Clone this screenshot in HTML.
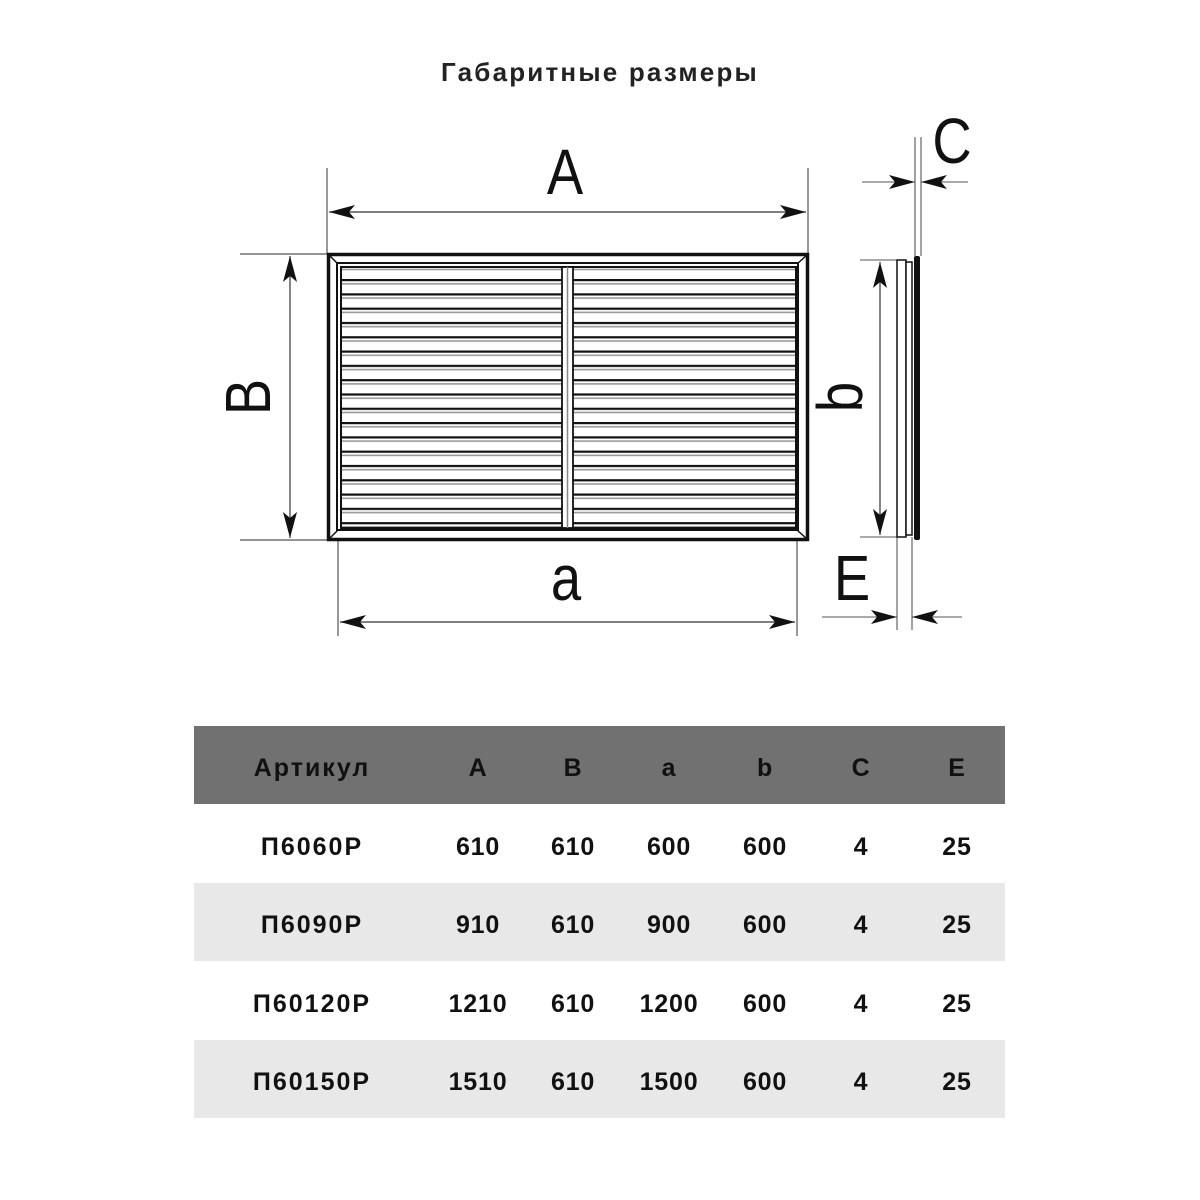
<!DOCTYPE html>
<html><head><meta charset="utf-8"><style>
body{margin:0;background:#fff;}
.t{position:absolute;left:0;top:0;width:1200px;height:1200px;}
</style></head><body>
<svg class="t" width="1200" height="1200" viewBox="0 0 1200 1200" xmlns="http://www.w3.org/2000/svg">
<defs>
<pattern id="sl" x="0" y="279" width="20" height="14.3" patternUnits="userSpaceOnUse">
<rect x="0" y="0" width="20" height="2.2" fill="#111"/>
<rect x="0" y="4" width="20" height="1.6" fill="#999"/>
</pattern>
<marker id="ar" viewBox="0 0 26 14" refX="26" refY="7" markerWidth="26" markerHeight="14" markerUnits="userSpaceOnUse" orient="auto-start-reverse">
<path d="M0,0 L26,7 L0,14 L6,7 Z" fill="#111"/>
</marker>
</defs>
<text x="600" y="81" text-anchor="middle" font-family="Liberation Sans, sans-serif" font-weight="bold" font-size="26" letter-spacing="2.2" fill="#222">Габаритные размеры</text>

<!-- front view -->
<g stroke="#555" stroke-width="1.2" fill="none">
<line x1="327" y1="168" x2="327" y2="254"/>
<line x1="808" y1="168" x2="808" y2="254"/>
<line x1="240" y1="254" x2="328" y2="254"/>
<line x1="240" y1="540" x2="328" y2="540"/>
<line x1="338" y1="540" x2="338" y2="636"/>
<line x1="797" y1="540" x2="797" y2="636"/>
</g>
<g stroke="#333" stroke-width="1.2">
<line x1="329" y1="212" x2="806" y2="212" marker-start="url(#ar)" marker-end="url(#ar)"/>
<line x1="290" y1="256" x2="290" y2="538" marker-start="url(#ar)" marker-end="url(#ar)"/>
<line x1="340" y1="622" x2="795" y2="622" marker-start="url(#ar)" marker-end="url(#ar)"/>
<line x1="880" y1="262" x2="880" y2="535" marker-start="url(#ar)" marker-end="url(#ar)"/>
</g>
<rect x="328.5" y="254.5" width="479" height="285" fill="#fff" stroke="#111" stroke-width="3.5"/>
<rect x="337" y="263" width="461" height="267" fill="none" stroke="#111" stroke-width="2"/>
<rect x="341" y="267" width="455" height="261" fill="url(#sl)" stroke="#111" stroke-width="2"/>
<line x1="329" y1="255" x2="338" y2="264" stroke="#111" stroke-width="1.5"/>
<line x1="807" y1="255" x2="797" y2="264" stroke="#111" stroke-width="1.5"/>
<line x1="329" y1="539" x2="338" y2="530" stroke="#111" stroke-width="1.5"/>
<line x1="807" y1="539" x2="797" y2="530" stroke="#111" stroke-width="1.5"/>
<rect x="562" y="267" width="11" height="261" fill="#fff" stroke="#111" stroke-width="1.8"/>
<line x1="567.5" y1="267" x2="567.5" y2="528" stroke="#888" stroke-width="1.5"/>

<!-- side view -->
<g stroke="#555" stroke-width="1.1">
<line x1="915" y1="137" x2="915" y2="256"/>
<line x1="921" y1="137" x2="921" y2="256"/>
<line x1="897" y1="537" x2="897" y2="630"/>
<line x1="912" y1="537" x2="912" y2="630"/>
<line x1="860" y1="260" x2="897" y2="260"/>
<line x1="860" y1="537" x2="897" y2="537"/>
<line x1="862" y1="182" x2="915" y2="182" marker-end="url(#ar)"/>
<line x1="968" y1="182" x2="921" y2="182" marker-end="url(#ar)"/>
<line x1="822" y1="617" x2="897" y2="617" marker-end="url(#ar)"/>
<line x1="962" y1="617" x2="912" y2="617" marker-end="url(#ar)"/>
</g>
<rect x="897" y="260" width="9" height="277" fill="#fff" stroke="#111" stroke-width="1.5"/>
<rect x="906" y="262" width="6" height="273" fill="#fff" stroke="#111" stroke-width="1.5"/>
<rect x="914" y="256" width="6" height="284" rx="2" fill="#111"/>

<g font-family="Liberation Sans, sans-serif" font-size="64" fill="#111">
<text x="565" y="194" text-anchor="middle" transform="translate(565 0) scale(0.85 1) translate(-565 0)">A</text>
<text x="566" y="600" text-anchor="middle" transform="translate(566 0) scale(0.85 1) translate(-566 0)">a</text>
<text x="952" y="163" text-anchor="middle" transform="translate(952 0) scale(0.85 1) translate(-952 0)">C</text>
<text x="852" y="600" text-anchor="middle" transform="translate(852 0) scale(0.85 1) translate(-852 0)">E</text>
<text transform="translate(270 397) rotate(-90) scale(0.85 1)" text-anchor="middle">B</text>
<text transform="translate(862 397) rotate(-90) scale(0.85 1)" text-anchor="middle">b</text>
</g>

<!-- table -->
<rect x="194" y="726" width="811" height="78" fill="#717171"/>
<rect x="194" y="883" width="811" height="78" fill="#e8e8e8"/>
<rect x="194" y="1040" width="811" height="78" fill="#e8e8e8"/>
<g font-family="Liberation Sans, sans-serif" font-weight="bold" font-size="25" letter-spacing="0.8" fill="#111" text-anchor="middle">
<text x="312" y="776" letter-spacing="2">Артикул</text><text x="478" y="776">A</text><text x="573" y="776">B</text><text x="669" y="776">a</text><text x="765" y="776">b</text><text x="861" y="776">C</text><text x="957" y="776">E</text>
<text x="312" y="855" letter-spacing="2">П6060Р</text><text x="478" y="855">610</text><text x="573" y="855">610</text><text x="669" y="855">600</text><text x="765" y="855">600</text><text x="861" y="855">4</text><text x="957" y="855">25</text>
<text x="312" y="933" letter-spacing="2">П6090Р</text><text x="478" y="933">910</text><text x="573" y="933">610</text><text x="669" y="933">900</text><text x="765" y="933">600</text><text x="861" y="933">4</text><text x="957" y="933">25</text>
<text x="312" y="1012" letter-spacing="2">П60120Р</text><text x="478" y="1012">1210</text><text x="573" y="1012">610</text><text x="669" y="1012">1200</text><text x="765" y="1012">600</text><text x="861" y="1012">4</text><text x="957" y="1012">25</text>
<text x="312" y="1090" letter-spacing="2">П60150Р</text><text x="478" y="1090">1510</text><text x="573" y="1090">610</text><text x="669" y="1090">1500</text><text x="765" y="1090">600</text><text x="861" y="1090">4</text><text x="957" y="1090">25</text>
</g>
</svg>
</body></html>
